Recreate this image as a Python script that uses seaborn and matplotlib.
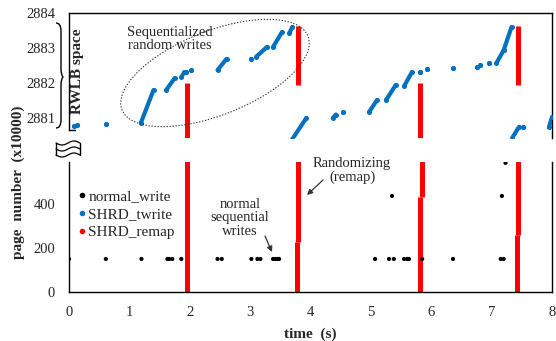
import numpy as np
import pandas as pd
import matplotlib
matplotlib.use("Agg")
import matplotlib.pyplot as plt
import seaborn as sns
from matplotlib.patches import Ellipse, PathPatch
from matplotlib.path import Path
from matplotlib.lines import Line2D

# ---------------- data ----------------
# normal writes (bottom panel, page number)
normal_t = [0.0, 0.61, 1.20, 1.63, 1.66, 1.71, 1.86, 2.46, 2.53, 3.02, 3.12, 3.17,
            3.38, 3.42, 3.45, 3.48, 5.07, 5.30, 5.38, 5.55, 5.60, 5.63, 5.85, 6.36,
            7.15, 7.20, 5.35, 7.17, 7.23]
normal_page = [150, 150, 150, 150, 150, 150, 150, 150, 150, 150, 150, 150,
               150, 150, 150, 150, 150, 150, 150, 150, 150, 150, 150, 150,
               150, 150, 436, 436, 586]

# SHRD_twrite runs (top panel, page number in units of 10000)
twrite_t0 = [0.09, 0.13, 0.61, 1.19, 1.61, 1.86, 1.94, 2.02, 2.46, 3.02, 3.10, 3.38, 3.65,
             3.70, 4.37, 4.54, 4.97, 5.25, 5.55, 5.81, 5.93, 6.36, 6.76, 6.80, 6.95,
             7.08, 7.20, 7.33, 7.52, 7.95]
twrite_t1 = [0.09, 0.13, 0.61, 1.40, 1.75, 1.91, 1.94, 2.02, 2.61, 3.02, 3.28, 3.53, 3.70,
             3.93, 4.42, 4.54, 5.10, 5.41, 5.68, 5.81, 5.93, 6.36, 6.76, 6.80, 6.95,
             7.20, 7.33, 7.45, 7.52, 8.00]
twrite_p0 = [2880.77, 2880.80, 2880.83, 2880.86, 2881.80, 2882.17, 2882.31, 2882.37, 2882.37,
             2882.69, 2882.75, 2883.03, 2883.43, 2880.40, 2881.00, 2881.17, 2881.17, 2881.51,
             2881.91, 2882.31, 2882.40, 2882.43, 2882.46, 2882.51, 2882.57, 2882.57, 2882.94,
             2880.40, 2880.74, 2880.74]
twrite_p1 = [2880.77, 2880.80, 2880.83, 2881.80, 2882.14, 2882.31, 2882.31, 2882.37, 2882.69,
             2882.69, 2883.03, 2883.46, 2883.60, 2881.00, 2881.10, 2881.17, 2881.51, 2881.94,
             2882.31, 2882.31, 2882.40, 2882.43, 2882.46, 2882.51, 2882.57, 2882.94, 2883.60,
             2880.74, 2880.74, 2881.03]

# SHRD_remap runs
remap_top_t = [1.96, 3.80, 5.82, 7.44]
remap_top_lo = [2880.30, 2881.94, 2880.30, 2881.94]
remap_top_hi = [2882.00, 2883.63, 2882.00, 2883.63]
remap_bot_t = [1.96, 3.77, 3.80, 5.82, 5.85, 7.42, 7.44]
remap_bot_lo = [0, 0, 226, 0, 432, 0, 258]
remap_bot_hi = [600, 226, 600, 432, 600, 258, 600]

top_ticks = [2881, 2882, 2883, 2884]
bot_ticks = [0, 200, 400]
x_ticks = [0, 1, 2, 3, 4, 5, 6, 7, 8]

BLUE = "#0070C0"
RED = "#FF0000"

# ---------------- style ----------------
sns.set_style("white")
plt.rcParams["font.family"] = ["Liberation Serif", "DejaVu Serif"]
plt.rcParams["font.size"] = 10.5

W, H = 556, 341
fig = plt.figure(figsize=(W / 100, H / 100), dpi=100)

def fx(x):
    return x / W

def fy(y):
    return 1 - y / H

L, R = 69, 552
ax_top = fig.add_axes([fx(L), fy(138), fx(R - L), (138 - 13) / H])
ax_bot = fig.add_axes([fx(L), fy(292), fx(R - L), (292 - 162) / H])

# ---------------- bottom panel ----------------
df_norm = pd.DataFrame({"t": normal_t, "page": normal_page})
sns.scatterplot(data=df_norm, x="t", y="page", ax=ax_bot, color="black", s=9,
                edgecolor="none", legend=False, zorder=3)
ax_bot.vlines(remap_bot_t, remap_bot_lo, remap_bot_hi, color=RED, lw=3.6, zorder=2)

ax_bot.set_xlim(0, 8)
ax_bot.set_ylim(0, 590)
ax_bot.set_xticks(x_ticks)
ax_bot.set_yticks(bot_ticks)
ax_bot.set_xlabel("time  (s)", fontweight="bold", fontsize=11, labelpad=6)
ax_bot.set_ylabel("")
ax_bot.tick_params(length=0, pad=10, labelsize=10.5)
for s in ["left", "bottom", "right"]:
    ax_bot.spines[s].set_visible(True)
    ax_bot.spines[s].set_color("black")
    ax_bot.spines[s].set_linewidth(1.0)
ax_bot.spines["top"].set_visible(False)

handles = [
    Line2D([], [], ls="none", marker="o", ms=4, color="black", mew=0),
    Line2D([], [], ls="none", marker="o", ms=4, color=BLUE, mew=0),
    Line2D([], [], ls="none", marker="o", ms=4, color=RED, mew=0),
]
ax_bot.legend(handles, ["normal_write", "SHRD_twrite", "SHRD_remap"], loc="upper left",
              bbox_to_anchor=(0.0, 0.86), frameon=False, fontsize=11,
              handlelength=0.5, handletextpad=0.15, labelspacing=0.28, borderaxespad=0.2)

# ---------------- top panel ----------------
for t0, t1, p0, p1 in zip(twrite_t0, twrite_t1, twrite_p0, twrite_p1):
    ax_top.plot([t0, t1], [p0, p1], color=BLUE, lw=3.0, solid_capstyle="round",
                marker="o", ms=3.6, mew=0, zorder=3)
ax_top.vlines(remap_top_t, remap_top_lo, remap_top_hi, color=RED, lw=3.6, zorder=2)

ax_top.set_xlim(0, 8)
ax_top.set_ylim(2880.43, 2884)
ax_top.set_yticks(top_ticks)
ax_top.set_xticks([])
ax_top.tick_params(length=0, pad=10, labelsize=10.5)
for s in ["left", "top", "right"]:
    ax_top.spines[s].set_visible(True)
    ax_top.spines[s].set_color("black")
    ax_top.spines[s].set_linewidth(1.0)
ax_top.spines["bottom"].set_visible(False)
ax_top.spines["left"].set_bounds(2880.67, 2884)
ax_top.plot([0, 0.1], [2880.67, 2880.67], color="black", lw=1.0, clip_on=False)

# ---------------- decorations ----------------
# ellipse around sequentialized writes (in pixel units via inches)
ell = Ellipse(xy=(215 / 100, (H - 73) / 100), width=2.0, height=0.84, angle=21.6,
              transform=fig.dpi_scale_trans, fill=False, ls=(0, (1.2, 1.5)),
              lw=0.8, edgecolor="#333333")
fig.add_artist(ell)
fig.text(fx(170), fy(39), "Sequentialized\nrandom writes", ha="center", va="center",
         fontsize=10.5, linespacing=1.05)

# brace for RWLB space
bx0, bx1 = 56, 63
yt, ym, yb = 23, 77, 128
verts = [(bx0, yt), (bx0 + 5, yt), (bx0 + 5, yt + 8), (bx0 + 5, ym - 8), (bx0 + 5, ym - 2),
         (bx1, ym), (bx0 + 5, ym + 2), (bx0 + 5, ym + 8), (bx0 + 5, yb - 8),
         (bx0 + 5, yb), (bx0, yb)]
verts = [(fx(x), fy(y)) for x, y in verts]
codes = [Path.MOVETO, Path.CURVE3, Path.CURVE3, Path.LINETO, Path.CURVE3, Path.CURVE3,
         Path.CURVE3, Path.CURVE3, Path.LINETO, Path.CURVE3, Path.CURVE3]
fig.add_artist(PathPatch(Path(verts, codes), transform=fig.transFigure, fill=False,
                         lw=1.0, edgecolor="black"))
fig.text(fx(77), fy(71), "RWLB space", rotation=90, ha="center", va="center",
         fontweight="bold", fontsize=11)

# axis break symbol
xs = np.linspace(56, 80, 60)
for yb0 in (143, 149, 155):
    ys = yb0 + 2.0 * np.sin((xs - 56) / 24 * 2 * np.pi)
    fig.add_artist(Line2D(fx(xs), fy(ys), transform=fig.transFigure, color="black", lw=0.9))
fig.add_artist(Line2D([fx(56), fx(56)], [fy(143), fy(155)], transform=fig.transFigure,
                      color="black", lw=1.0))
fig.add_artist(Line2D([fx(80), fx(80)], [fy(143), fy(155)], transform=fig.transFigure,
                      color="black", lw=1.0))

# y label
fig.text(fx(18), fy(182), "page  number  (x10000)", rotation=90, ha="center",
         va="center", fontweight="bold", fontsize=11)

# annotations
fig.text(fx(352), fy(171), "Randomizing\n(remap)", ha="center", va="center",
         fontsize=10.5, linespacing=1.05)
ax_bot.annotate("", xy=(fx(307), fy(195)), xycoords="figure fraction",
                xytext=(fx(323), fy(180)), textcoords="figure fraction",
                arrowprops=dict(arrowstyle="-|>", color="#333333", lw=0.9,
                                mutation_scale=8, shrinkA=0, shrinkB=0))
fig.text(fx(240), fy(218), "normal\nsequential\nwrites", ha="center", va="center",
         fontsize=10.5, linespacing=1.05)
ax_bot.annotate("", xy=(fx(272), fy(252)), xycoords="figure fraction",
                xytext=(fx(265), fy(236)), textcoords="figure fraction",
                arrowprops=dict(arrowstyle="-|>", color="#333333", lw=0.9,
                                mutation_scale=8, shrinkA=0, shrinkB=0))

fig.savefig("out.png", dpi=100)
